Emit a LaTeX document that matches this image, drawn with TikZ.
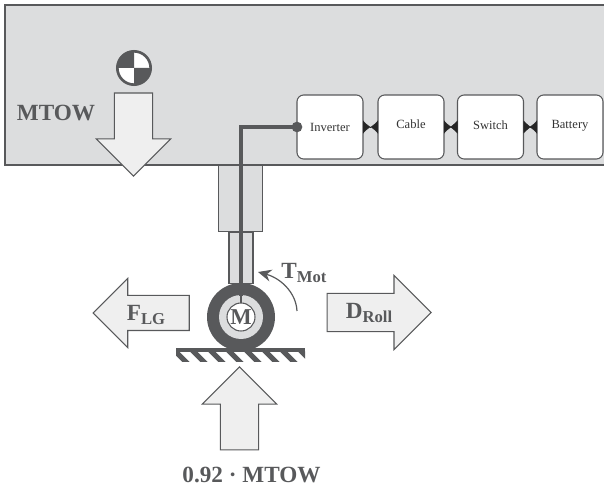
\documentclass[tikz,border=0pt]{standalone}
\usepackage{fontspec}
\setmainfont{Liberation Serif}
\usetikzlibrary{arrows.meta,shapes.arrows}
\definecolor{darkgrey}{HTML}{58595B}
\definecolor{bodygrey}{HTML}{DCDDDE}
\definecolor{arrowgrey}{HTML}{EFEFEF}
\newcommand{\forcelabel}[2]{\textbf{#1\raisebox{-0.35ex}{\fontsize{12.5pt}{14pt}\selectfont #2}}}
\tikzset{
    body/.style={draw=darkgrey,fill=bodygrey,line width=0.9pt},
    unit/.style={draw=darkgrey,fill=white,rounded corners=5pt,line width=0.8pt,minimum width=49.5pt,minimum height=48pt,inner sep=0pt,outer sep=0pt,font=\fontsize{9.4pt}{11pt}\selectfont,text=black!80},
    link/.style={{Latex[reversed,length=5.6pt,width=10pt]}-{Latex[reversed,length=5.6pt,width=10pt]},line width=0.3pt,black!85},
    force/.style={single arrow,draw=darkgrey,fill=arrowgrey,line width=0.8pt,inner sep=13.9pt,outer sep=0pt,single arrow head extend=13.5pt},
    forcetext/.style={text=darkgrey,font=\fontsize{17.4pt}{20pt}\selectfont\bfseries,inner sep=0pt},
    cable/.style={draw=darkgrey,line width=3pt}
}
\begin{document}
\begin{tikzpicture}[x=0.75pt,y=-0.75pt]
    \useasboundingbox (0,0) rectangle (604,488);
    % Fuselage
    \fill[bodygrey] (5,5) rectangle (604,165);
    \draw[body] (604,5) -- (5,5) -- (5,165) -- (604,165);
    % Landing gear strut
    \node[body,minimum width=33pt,minimum height=50pt,inner sep=0pt,outer sep=0pt] (strut) at (240.5,198.5) {};
    \node[body,minimum width=18pt,minimum height=38pt,inner sep=0pt,outer sep=0pt] (leg) at (241,258) {};
    % Ground
    \begin{scope}
        \clip (176,351) rectangle (305,362);
        \foreach \x in {170,188,...,320}
            \draw[darkgrey,line width=3.8pt] (\x,346) -- (\x+20,366);
    \end{scope}
    \fill[darkgrey] (176,348) rectangle (305,352.5);
    % Wheel with motor
    \node[circle,fill=darkgrey,minimum size=51pt,inner sep=0pt,outer sep=0pt] (tyre) at (241,317) {};
    \node[circle,fill=bodygrey,minimum size=33pt,inner sep=0pt,outer sep=0pt] (hub) at (tyre) {};
    \node[circle,draw=darkgrey,fill=white,line width=0.8pt,minimum size=21pt,inner sep=0pt,outer sep=0pt,text=darkgrey,font=\fontsize{17pt}{19pt}\selectfont\bfseries] (motor) at (tyre) {M};
    % Electric units
    \node[unit] (inverter) at (330,127) {Inverter};
    \node[unit] (cablebox) at (411,127) {\raisebox{5pt}{Cable}};
    \node[unit] (switch) at (490.5,127) {\raisebox{3pt}{Switch}};
    \node[unit] (battery) at (570,127) {\raisebox{4pt}{Battery}};
    \draw[link] (inverter.east) -- (cablebox.west);
    \draw[link] (cablebox.east) -- (switch.west);
    \draw[link] (switch.east) -- (battery.west);
    % Power line to the motor
    \node[circle,fill=darkgrey,minimum size=8pt,inner sep=0pt,outer sep=0pt] (plug) at (inverter.west) {};
    \coordinate (hubtop) at (241,296);
    \draw[cable] (plug.center) -| (hubtop);
    \draw[darkgrey,line width=1.5pt] (hubtop) -- (motor.north);
    % Centre of gravity
    \node[circle,draw=darkgrey,fill=white,line width=2pt,minimum size=25pt,inner sep=0pt,outer sep=0pt] (cog) at (134,68) {};
    \fill[darkgrey] (cog.center) -- (cog.west) arc[start angle=180,end angle=90,radius=12.5pt] -- cycle;
    \fill[darkgrey] (cog.center) -- (cog.east) arc[start angle=0,end angle=-90,radius=12.5pt] -- cycle;
    % Forces
    \node[force,shape border rotate=270,minimum height=62.25pt] (weight) at (133.5,125) {};
    \node[force,shape border rotate=180,minimum height=72pt,inner sep=12.75pt,single arrow head extend=12.75pt] (gearforce) at (150,313) {};
    \node[force,shape border rotate=0,minimum height=78pt] (drag) at (369.5,312.5) {};
    \node[force,shape border rotate=90,minimum height=62.25pt] (normal) at (239.5,418) {};
    \node[forcetext] (weighttext) at (56,113) {MTOW};
    \node[forcetext] (geartext) at (146,315) {\forcelabel{F}{LG}};
    \node[forcetext] (dragtext) at (369,313) {\forcelabel{D}{Roll}};
    \node[forcetext] (normaltext) at (251.5,475) {0.92 · MTOW};
    % Motor torque
    \node[forcetext] (torquetext) at (304,273) {\forcelabel{T}{Mot}};
    \coordinate (torquestart) at (297,311);
    \coordinate (torqueend) at (258,272);
    \draw[darkgrey,line width=0.9pt,-{Stealth[length=10pt,width=9pt]}] (torquestart) .. controls (296,292) and (280,278) .. (torqueend);
\end{tikzpicture}
\end{document}
